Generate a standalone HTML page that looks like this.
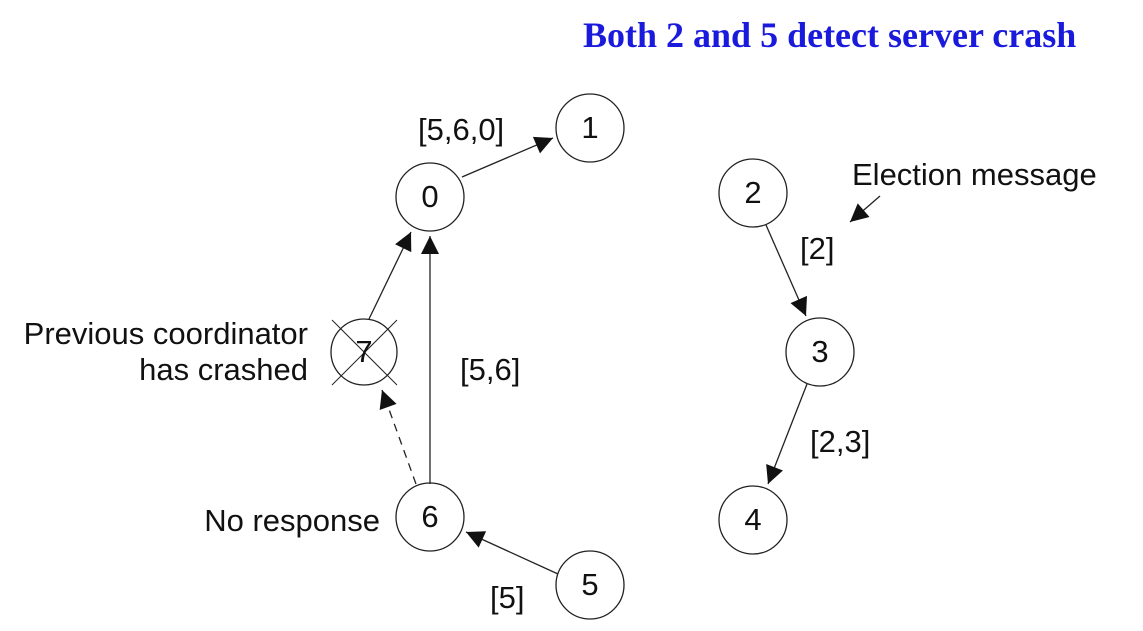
<!DOCTYPE html>
<html><head><meta charset="utf-8"><style>
html,body{margin:0;padding:0;background:#fff;}
svg{display:block;}
text{font-family:"Liberation Sans",Arial,sans-serif;font-size:31px;fill:#111;}
.t{font-family:"Liberation Serif",serif;font-weight:bold;font-size:36px;fill:#1a1adc;}
</style></head><body>
<svg width="1143" height="631" viewBox="0 0 1143 631">
<defs><marker id="ah" viewBox="0 0 10 10" refX="10" refY="5" markerWidth="26" markerHeight="18" markerUnits="userSpaceOnUse" orient="auto"><path d="M0,0 L10,5 L0,10 z" fill="#111"/></marker></defs>
<text class="t" x="583" y="47">Both 2 and 5 detect server crash</text>
<g stroke="#222" stroke-width="1.3" fill="none">
<line x1="462" y1="177" x2="553" y2="138" marker-end="url(#ah)"/>
<line x1="369" y1="319" x2="411" y2="232" marker-end="url(#ah)"/>
<line x1="430" y1="484" x2="430" y2="236" marker-end="url(#ah)"/>
<line x1="416" y1="484" x2="382" y2="390" stroke-dasharray="8,6" marker-end="url(#ah)"/>
<line x1="558" y1="574" x2="466" y2="532" marker-end="url(#ah)"/>
<line x1="766" y1="225" x2="806" y2="316" marker-end="url(#ah)"/>
<line x1="807" y1="384" x2="768" y2="484" marker-end="url(#ah)"/>
<line x1="880" y1="196" x2="850" y2="222" marker-end="url(#ah)"/>
<circle cx="430" cy="197" r="34"/>
<circle cx="590" cy="128" r="34"/>
<circle cx="753" cy="193" r="34"/>
<circle cx="820" cy="352" r="34"/>
<circle cx="753" cy="520" r="34"/>
<circle cx="590" cy="585" r="34"/>
<circle cx="430" cy="517" r="34"/>
<circle cx="364" cy="352" r="33"/>
<line x1="332" y1="320" x2="397" y2="385" stroke-width="1"/>
<line x1="397" y1="320" x2="332" y2="385" stroke-width="1"/>
</g>
<g text-anchor="middle" style="font-size:28px">
<text x="430" y="207">0</text><text x="590" y="138">1</text><text x="753" y="203">2</text>
<text x="820" y="362">3</text><text x="753" y="530">4</text><text x="590" y="595">5</text>
<text x="430" y="527">6</text><text x="364" y="362">7</text>
</g>
<text x="418" y="140">[5,6,0]</text>
<text x="852" y="185">Election message</text>
<text x="800" y="259">[2]</text>
<text x="460" y="380">[5,6]</text>
<text x="810" y="452">[2,3]</text>
<text x="490" y="608">[5]</text>
<text x="308" y="344" text-anchor="end">Previous coordinator</text>
<text x="308" y="380" text-anchor="end">has crashed</text>
<text x="380" y="531" text-anchor="end">No response</text>
</svg>
</body></html>
